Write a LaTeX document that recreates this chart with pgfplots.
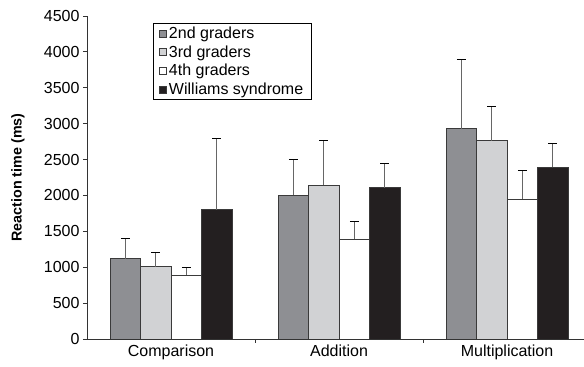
\documentclass[border=0pt]{standalone}
\usepackage{fontspec}
\setmainfont{Liberation Sans}
\usepackage{pgfplots}
\pgfplotsset{compat=1.18}
\usepackage{pgfplotstable}
\definecolor{cSecond}{HTML}{8E8F93}
\definecolor{cThird}{HTML}{D1D2D4}
\definecolor{cFourth}{HTML}{FFFFFF}
\definecolor{cWS}{HTML}{231F20}
\definecolor{cEdge}{HTML}{3A3A3A}
\definecolor{cErr}{HTML}{666666}
\pgfplotstableread{
x y e
0 1120 280
1 2000 500
2 2930 960
}\second
\pgfplotstableread{
x y e
0 1010 190
1 2140 620
2 2760 480
}\third
\pgfplotstableread{
x y e
0 890 110
1 1390 250
2 1950 400
}\fourth
\pgfplotstableread{
x y e
0 1800 990
1 2110 330
2 2390 340
}\ws
\pgfplotsset{
  myerr/.style={error bars/.cd, y dir=plus, y explicit,
    error bar style={cErr, line width=1pt},
    error mark options={black, mark size=4.5pt, line width=1pt, rotate=90}},
}
\begin{document}
\begin{tikzpicture}
\begin{axis}[
  scale only axis, width=497pt, height=323pt,
  xmin=-0.5, xmax=2.458, ymin=0, ymax=4500,
  axis x line*=bottom, axis y line*=left,
  axis line style={line width=0.8pt, draw=black!80},
  ybar=0pt, bar width=30.5pt,
  ytick={0,500,...,4500},
  /pgf/number format/assume math mode=true,
  /pgf/number format/1000 sep={},
  tick align=outside, major tick length=4pt,
  tick style={line width=0.8pt, black!80},
  xtick={0.5,1.5}, xticklabels={},
  extra x ticks={0,1,2},
  extra x tick labels={Comparison,Addition,Multiplication},
  extra x tick style={major tick length=0pt, xticklabel style={yshift=-2pt}},
  tick label style={font=\fontsize{16}{19}\selectfont},
  ylabel={Reaction time (ms)},
  every axis y label/.style={at={(axis description cs:0,0.5)}, xshift=-69pt, rotate=90, anchor=center, font=\fontsize{14.3}{17}\selectfont\bfseries},
  legend style={at={(axis description cs:0.1328,0.978)}, anchor=north west,
    draw=black, line width=0.8pt, font=\fontsize{16}{19}\selectfont,
    inner xsep=6pt, inner ysep=1.5pt, row sep=1.5pt},
  legend cell align=left,
  legend image code/.code={\draw[#1, line width=0.6pt] (0pt,-3.5pt) rectangle (7pt,3.5pt);},
  every axis plot/.append style={draw=cEdge, line width=0.8pt},
]
\addplot[fill=cSecond, myerr] table[x=x,y=y,y error=e]{\second};
\addplot[fill=cThird, myerr] table[x=x,y=y,y error=e]{\third};
\addplot[fill=cFourth, myerr] table[x=x,y=y,y error=e]{\fourth};
\addplot[fill=cWS, myerr] table[x=x,y=y,y error=e]{\ws};
\legend{2nd graders,3rd graders,4th graders,Williams syndrome}
\coordinate (bl) at (rel axis cs:0,0);
\coordinate (tr) at (rel axis cs:1,1);
\end{axis}
\pgfresetboundingbox
\path ([xshift=-87pt,yshift=-28pt]bl) rectangle ([yshift=16pt]tr);
\end{tikzpicture}
\end{document}
